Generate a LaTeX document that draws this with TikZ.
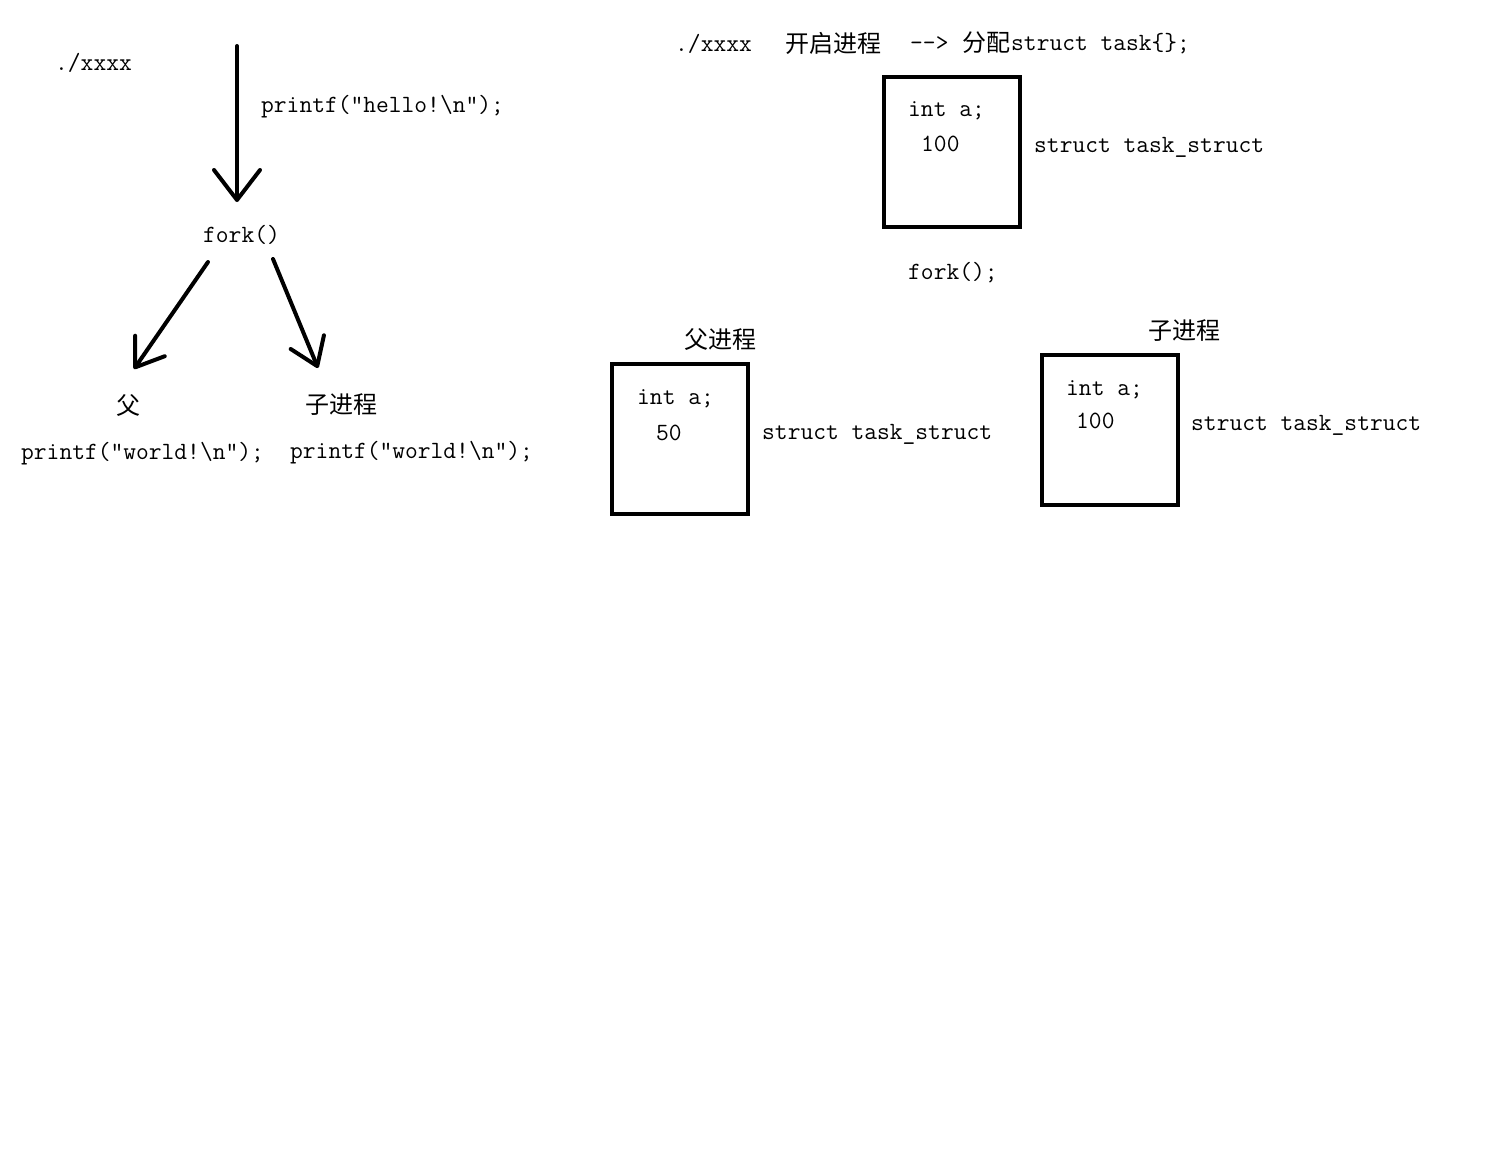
\documentclass[tikz,border=0pt]{standalone}
\usepackage{fontspec}
\newfontfamily\cjk{Noto Sans CJK SC}
\usetikzlibrary{arrows.meta}
\tikzset{
  txt/.style={inner sep=0pt, font=\ttfamily\fontsize{24.8}{28}\selectfont, anchor=west},
  cn/.style={inner sep=0pt, font=\cjk\fontsize{24}{27}\selectfont, anchor=west},
  procbox/.style={draw, line width=4pt, minimum width=136pt, minimum height=150pt, inner sep=0pt},
  bigarrow/.style={line width=4pt, line cap=round, -{Straight Barb[length=30pt, width=46pt, line width=4pt, round]}},
  smallarrow/.style={line width=4pt, line cap=round, -{Straight Barb[length=26pt, width=36pt, line width=4pt, round]}}
}
\begin{document}
\begin{tikzpicture}[x=1pt,y=-1pt]
\useasboundingbox[fill=white] (0,0) rectangle (1491,1164);
% left diagram
\node[txt] (run) at (55,63) {./xxxx};
\node[txt] (hello) at (261,107) {printf(”hello!\textbackslash n”);};
\node[txt] (fork) at (203,235) {fork()};
\coordinate (a1s) at (237,46);
\coordinate (a1e) at (237,202);
\draw[bigarrow] (a1s) -- (a1e);
\coordinate (a2s) at (208,262);
\coordinate (a2e) at (134,369);
\draw[smallarrow] (a2s) -- (a2e);
\coordinate (a3s) at (273,259);
\coordinate (a3e) at (318,368);
\draw[smallarrow] (a3s) -- (a3e);
\node[cn] (fu) at (116,405) {父};
\node[cn] (zi) at (305,405) {子进程};
\node[txt] (w1) at (21,454) {printf(”world!\textbackslash n”);};
\node[txt] (w2) at (290,453) {printf(”world!\textbackslash n”);};
% right diagram
\node[txt] (t1) at (675,44) {./xxxx};
\node[cn] (t2) at (785,43) {开启进程};
\node[txt] (t3) at (910,44) {-{}->};
\node[cn] (t4) at (962,43) {分配};
\node[txt] (t5) at (1011,44) {struct task\{\};};
\node[procbox] (b1) at (952,152) {};
\node[txt] (b1a) at (908,111) {int a;};
\node[txt] (b1v) at (921,144) {100};
\node[txt] (b1s) at (1034,147) {struct task\_struct};
\node[txt] (fork2) at (908,273) {fork();};
\node[cn] (fjc) at (684,339) {父进程};
\node[procbox] (b2) at (680,439) {};
\node[txt] (b2a) at (637,399) {int a;};
\node[txt] (b2v) at (656,433) {50};
\node[txt] (b2s) at (762,434) {struct task\_struct};
\node[cn] (zjc) at (1148,331) {子进程};
\node[procbox] (b3) at (1110,430) {};
\node[txt] (b3a) at (1066,390) {int a;};
\node[txt] (b3v) at (1076,421) {100};
\node[txt] (b3s) at (1191,425) {struct task\_struct};
\end{tikzpicture}
\end{document}
